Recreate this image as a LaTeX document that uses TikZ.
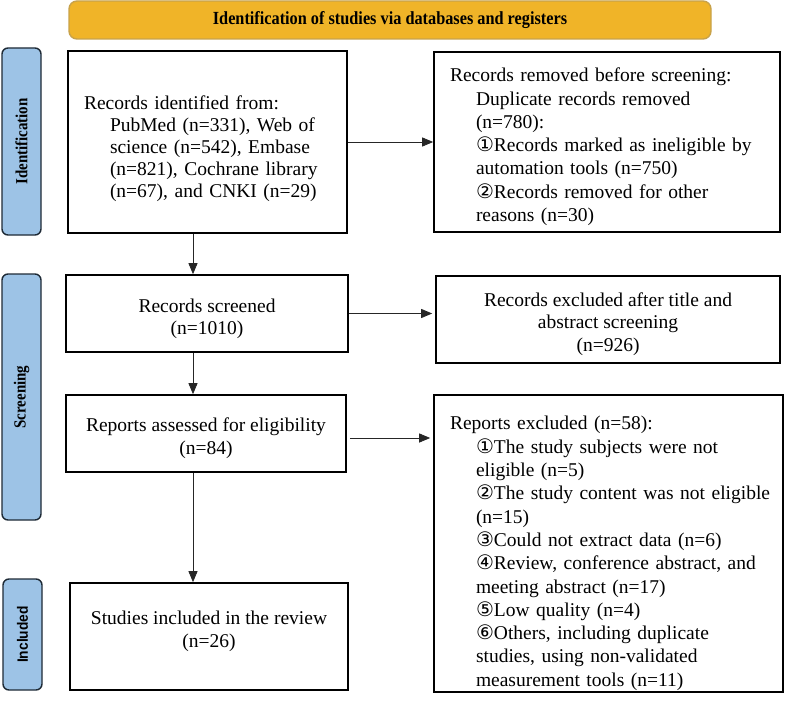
\documentclass[tikz,border=0pt]{standalone}
\usepackage{fontspec}
\setmainfont{Liberation Serif}
\newfontfamily\condserif[FakeStretch=0.88]{Liberation Serif}
\newfontfamily\circfont{DejaVu Sans}
\newfontfamily\labsans[FakeStretch=0.92]{Liberation Sans}
\usetikzlibrary{arrows.meta,calc}
\definecolor{bannerfill}{HTML}{F0B428}
\definecolor{bannerline}{HTML}{C8A24A}
\definecolor{sidefill}{HTML}{9DC3E6}
\definecolor{sideline}{HTML}{1E2A36}
\newcommand{\cn}[1]{{\circfont\fontsize{20}{20}\selectfont #1}}
\newcommand{\ind}{\hspace*{26pt}}
\newcommand{\topsp}[1]{\rule{0pt}{#1}}
\begin{document}
\begin{tikzpicture}[x=1pt,y=-1pt,
  box/.style={draw=black, line width=1.6pt, inner sep=0pt},
  leftbox/.style={box, align=left, inner xsep=16pt, font=\fontsize{19.5}{22}\selectfont},
  rightbox/.style={box, align=left, inner xsep=16pt, font=\fontsize{19.5}{23.3}\selectfont},
  centbox/.style={box, align=center, font=\fontsize{19.5}{22.5}\selectfont},
  sidelab/.style={draw=sideline, fill=sidefill, line width=1.4pt, rounded corners=6pt, inner sep=0pt, rotate=90, minimum height=39pt},
  conn/.style={line width=0.9pt, draw=black!85, -{Triangle[length=11pt,width=9pt]}},
]
\useasboundingbox (0,0) rectangle (790,701);

% banner
\node[draw=bannerline, fill=bannerfill, line width=1.4pt, rounded corners=8pt, minimum width=642pt, minimum height=38pt, inner sep=0pt,
  font=\condserif\bfseries\fontsize{18.5}{20}\selectfont] (banner) at (390,20) {Identification of studies via databases and registers};

% side labels
\node[sidelab, minimum width=187pt, font=\condserif\bfseries\fontsize{17}{19}\selectfont] (sid) at (21.5,141.5) {Identification};
\node[sidelab, minimum width=246pt, font=\condserif\bfseries\fontsize{17}{19}\selectfont] (sscr) at (21.5,397) {Screening};
\node[sidelab, minimum width=111pt, font=\labsans\bfseries\fontsize{15}{17}\selectfont] (sinc) at (22.5,634.5) {Included};

% boxes
\node[leftbox, text width=247pt, minimum height=182pt] (id) at (207.5,142)
  {\topsp{26.4pt}\mbox{Records identified from:}\\
   \ind\mbox{PubMed (n=331), Web of}\\
   \ind\mbox{science (n=542), Embase}\\
   \ind\mbox{(n=821), Cochrane library}\\
   \ind\mbox{(n=67), and CNKI (n=29)}};

\node[rightbox, text width=314pt, minimum height=180pt] (rem) at (607,142)
  {\topsp{23.4pt}\mbox{Records removed before screening:}\\
   \ind\mbox{Duplicate records removed}\\
   \ind\mbox{(n=780):}\\
   \ind\mbox{\cn{①}Records marked as ineligible by}\\
   \ind\mbox{automation tools (n=750)}\\
   \ind\mbox{\cn{②}Records removed for other}\\
   \ind\mbox{reasons (n=30)}};

\node[centbox, minimum width=282pt, minimum height=77pt] (scr) at (207,313.5)
  {\topsp{24.4pt}Records screened\\(n=1010)};

\node[centbox, minimum width=344pt, minimum height=87pt] (exc1) at (608,319.5)
  {\topsp{22.4pt}Records excluded after title and\\abstract screening\\(n=926)};

\node[centbox, minimum width=280pt, minimum height=77pt] (ass) at (206,433.5)
  {\topsp{23.4pt}Reports assessed for eligibility\\(n=84)};

\node[rightbox, text width=317pt, minimum height=297pt] (exc2) at (608.5,543.5)
  {\topsp{33.4pt}\mbox{Reports excluded (n=58):}\\
   \ind\mbox{\cn{①}The study subjects were not}\\
   \ind\mbox{eligible (n=5)}\\
   \ind\mbox{\cn{②}The study content was not eligible}\\
   \ind\mbox{(n=15)}\\
   \ind\mbox{\cn{③}Could not extract data (n=6)}\\
   \ind\mbox{\cn{④}Review, conference abstract, and}\\
   \ind\mbox{meeting abstract (n=17)}\\
   \ind\mbox{\cn{⑤}Low quality (n=4)}\\
   \ind\mbox{\cn{⑥}Others, including duplicate}\\
   \ind\mbox{studies, using non-validated}\\
   \ind\mbox{measurement tools (n=11)}};

\node[box, minimum width=278pt, minimum height=107pt] (inc) at (209,636.5) {};
\node[align=center, inner sep=0pt, font=\fontsize{19.5}{22.5}\selectfont] (inctext) at (209,631.5)
  {Studies included in the review\\(n=26)};

% connectors
\coordinate (colx) at (193,0);
\draw[conn] (id.east) -- (id.east -| rem.west);
\draw[conn] (id.south -| colx) -- (scr.north -| colx);
\draw[conn, shorten >=3pt] (scr.east) -- (scr.east -| exc1.west);
\draw[conn] (scr.south -| colx) -- (ass.north -| colx);
\draw[conn, shorten >=3pt] ($(ass.east)+(3,4.5)$) -- ($(ass.east -| exc2.west)+(0,4.5)$);
\draw[conn] (ass.south -| colx) -- (inc.north -| colx);
\end{tikzpicture}
\end{document}
